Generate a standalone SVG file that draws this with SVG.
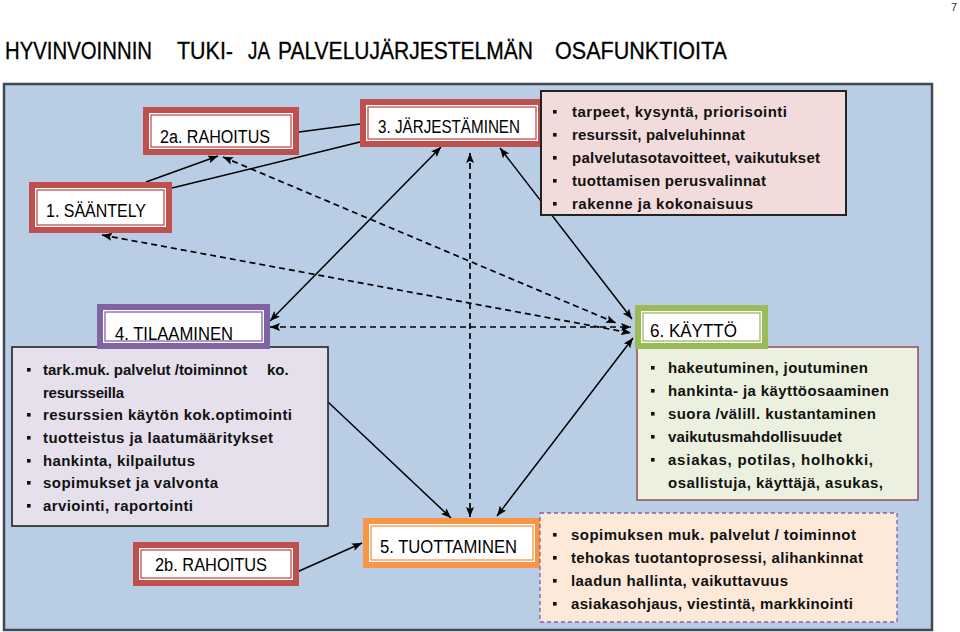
<svg xmlns="http://www.w3.org/2000/svg" width="960" height="632" viewBox="0 0 960 632">
<defs>
<style>
.title{font-family:"Liberation Sans",Arial,sans-serif;font-size:23px;fill:#000;stroke:#000;stroke-width:0.3}
.pg{font-family:"Liberation Sans",Arial,sans-serif;font-size:11px;fill:#333}
.lbl{font-family:"Liberation Sans",Arial,sans-serif;font-size:18px;fill:#000}
.bt{font-family:"Liberation Sans",Arial,sans-serif;font-size:15px;font-weight:bold;fill:#111}
.bul{fill:#111}
.ln{fill:none;stroke:#000;stroke-width:1.5}
.dl{fill:none;stroke:#000;stroke-width:1.7;stroke-dasharray:6 4}
.band-red{fill:#fff;stroke:#c0504d;stroke-width:6}
.in-red{fill:none;stroke:#c0504d;stroke-width:1.3}
.band-pur{fill:#fff;stroke:#8064a2;stroke-width:6}
.in-pur{fill:none;stroke:#8064a2;stroke-width:1.3}
.band-grn{fill:#fff;stroke:#9bbb59;stroke-width:6}
.in-grn{fill:none;stroke:#9bbb59;stroke-width:1.3}
.band-org{fill:#fff;stroke:#f79646;stroke-width:6}
.in-org{fill:none;stroke:#f79646;stroke-width:1.3}
</style>
<marker id="ah" viewBox="0 0 10 8" refX="10" refY="4" markerWidth="10" markerHeight="8" markerUnits="userSpaceOnUse" orient="auto-start-reverse">
<path d="M0,0 L10,4 L0,8 L2,4 z" fill="#000"/>
</marker>
</defs>

<text class="pg" x="951" y="11">7</text>
<text class="title" y="59"><tspan x="5" textLength="147" lengthAdjust="spacingAndGlyphs">HYVINVOINNIN</tspan><tspan x="177" textLength="56" lengthAdjust="spacingAndGlyphs">TUKI-</tspan><tspan x="248" textLength="22" lengthAdjust="spacingAndGlyphs">JA</tspan><tspan x="278" textLength="255" lengthAdjust="spacingAndGlyphs">PALVELUJÄRJESTELMÄN</tspan><tspan x="555" textLength="172" lengthAdjust="spacingAndGlyphs">OSAFUNKTIOITA</tspan></text>

<rect x="4" y="84" width="928" height="546" fill="#b9cde5" stroke="#404856" stroke-width="2.5"/>

<g id="connectors">
<line class="ln" x1="146" y1="182" x2="218" y2="156" marker-end="url(#ah)"/>
<line class="ln" x1="172" y1="188" x2="360" y2="142"/>
<line class="ln" x1="299" y1="132" x2="360" y2="124"/>
<line class="dl" x1="223" y1="157" x2="616" y2="323" marker-start="url(#ah)" marker-end="url(#ah)"/>
<line class="dl" x1="102" y1="235" x2="631" y2="333" marker-start="url(#ah)" marker-end="url(#ah)"/>
<line class="ln" x1="441" y1="147" x2="270" y2="321" marker-start="url(#ah)" marker-end="url(#ah)"/>
<line class="dl" x1="470" y1="153" x2="470" y2="517" marker-start="url(#ah)" marker-end="url(#ah)"/>
<line class="ln" x1="500" y1="148" x2="632" y2="319" marker-start="url(#ah)" marker-end="url(#ah)"/>
<line class="dl" x1="270" y1="327" x2="631" y2="327" marker-start="url(#ah)" marker-end="url(#ah)"/>
<line class="ln" x1="328" y1="402" x2="451" y2="518" marker-end="url(#ah)"/>
<line class="ln" x1="633" y1="338" x2="497" y2="516" marker-start="url(#ah)" marker-end="url(#ah)"/>
<line class="ln" x1="297" y1="572" x2="362" y2="543" marker-end="url(#ah)"/>
</g>

<g id="n1">
<rect class="band-red" x="32" y="185" width="137" height="45"/>
<rect class="in-red" x="37" y="190" width="127" height="35"/>
<text class="lbl" x="46" y="217" textLength="100" lengthAdjust="spacingAndGlyphs">1. SÄÄNTELY</text>
</g>

<g id="n2a">
<rect class="band-red" x="146" y="110" width="150" height="42"/>
<rect class="in-red" x="151" y="115" width="140" height="32"/>
<text class="lbl" x="160" y="143" textLength="110" lengthAdjust="spacingAndGlyphs">2a. RAHOITUS</text>
</g>

<g id="n3">
<rect class="band-red" x="363" y="102" width="178" height="42"/>
<rect class="in-red" x="368" y="107" width="168" height="32"/>
<text class="lbl" x="378" y="133" textLength="142" lengthAdjust="spacingAndGlyphs">3. JÄRJESTÄMINEN</text>
</g>

<g id="n3-list">
<rect x="541" y="91" width="305" height="124" fill="#f2dcdb" stroke="#222" stroke-width="2"/>
<rect class="bul" x="553" y="110" width="3.6" height="3.6"/>
<rect class="bul" x="553" y="133" width="3.6" height="3.6"/>
<rect class="bul" x="553" y="156" width="3.6" height="3.6"/>
<rect class="bul" x="553" y="179" width="3.6" height="3.6"/>
<rect class="bul" x="553" y="202" width="3.6" height="3.6"/>
<text class="bt" x="572" y="117" textLength="215">tarpeet, kysyntä, priorisointi</text>
<text class="bt" x="572" y="140" textLength="173">resurssit, palveluhinnat</text>
<text class="bt" x="572" y="163" textLength="248">palvelutasotavoitteet, vaikutukset</text>
<text class="bt" x="572" y="186" textLength="194">tuottamisen perusvalinnat</text>
<text class="bt" x="572" y="209" textLength="181">rakenne ja kokonaisuus</text>
</g>

<g id="n4-list">
<rect x="12" y="347" width="316" height="179" fill="#e5e0ec" stroke="#222" stroke-width="1.6"/>
<rect class="bul" x="27" y="368" width="3.6" height="3.6"/>
<rect class="bul" x="27" y="413" width="3.6" height="3.6"/>
<rect class="bul" x="27" y="436" width="3.6" height="3.6"/>
<rect class="bul" x="27" y="459" width="3.6" height="3.6"/>
<rect class="bul" x="27" y="481" width="3.6" height="3.6"/>
<rect class="bul" x="27" y="504" width="3.6" height="3.6"/>
<text class="bt" y="375"><tspan x="43">tark.muk. palvelut /toiminnot</tspan><tspan x="267">ko.</tspan></text>
<text class="bt" x="43" y="398" textLength="81">resursseilla</text>
<text class="bt" x="43" y="420" textLength="249">resurssien käytön kok.optimointi</text>
<text class="bt" x="43" y="443" textLength="230">tuotteistus ja laatumääritykset</text>
<text class="bt" x="43" y="466" textLength="152">hankinta, kilpailutus</text>
<text class="bt" x="43" y="488" textLength="175">sopimukset ja valvonta</text>
<text class="bt" x="43" y="511" textLength="150">arviointi, raportointi</text>
</g>

<g id="n4">
<rect class="band-pur" x="100" y="307" width="167" height="39"/>
<rect class="in-pur" x="105" y="312" width="157" height="29"/>
<text class="lbl" x="115" y="340" textLength="118" lengthAdjust="spacingAndGlyphs">4. TILAAMINEN</text>
</g>

<g id="n6-list">
<rect x="637" y="347" width="281" height="153" fill="#ebf1de" stroke="#9b4a5a" stroke-width="1.5"/>
<rect class="bul" x="651" y="366" width="3.6" height="3.6"/>
<rect class="bul" x="651" y="389" width="3.6" height="3.6"/>
<rect class="bul" x="651" y="412" width="3.6" height="3.6"/>
<rect class="bul" x="651" y="435" width="3.6" height="3.6"/>
<rect class="bul" x="651" y="458" width="3.6" height="3.6"/>
<text class="bt" x="668" y="373" textLength="200">hakeutuminen, joutuminen</text>
<text class="bt" x="668" y="396" textLength="221">hankinta- ja käyttöosaaminen</text>
<text class="bt" x="668" y="419" textLength="208">suora /välill. kustantaminen</text>
<text class="bt" x="668" y="442" textLength="174">vaikutusmahdollisuudet</text>
<text class="bt" x="668" y="465" textLength="205">asiakas, potilas, holhokki,</text>
<text class="bt" x="668" y="488" textLength="215">osallistuja, käyttäjä, asukas,</text>
</g>

<g id="n6">
<rect class="band-grn" x="638" y="308" width="127" height="38"/>
<rect class="in-grn" x="643" y="313" width="117" height="28"/>
<text class="lbl" x="650" y="337" textLength="87" lengthAdjust="spacingAndGlyphs">6. KÄYTTÖ</text>
</g>

<g id="n2b">
<rect class="band-red" x="136" y="545" width="160" height="38"/>
<rect class="in-red" x="141" y="550" width="150" height="28"/>
<text class="lbl" x="155" y="571" textLength="112" lengthAdjust="spacingAndGlyphs">2b. RAHOITUS</text>
</g>

<g id="n5">
<rect class="band-org" x="366" y="521" width="172" height="44"/>
<rect class="in-org" x="371" y="526" width="162" height="34"/>
<text class="lbl" x="380" y="553" textLength="137" lengthAdjust="spacingAndGlyphs">5. TUOTTAMINEN</text>
</g>

<g id="n5-list">
<rect x="540" y="513" width="357" height="109" fill="#fde9d9" stroke="#8064a2" stroke-width="1.3" stroke-dasharray="4 3"/>
<rect class="bul" x="553" y="533" width="3.6" height="3.6"/>
<rect class="bul" x="553" y="556" width="3.6" height="3.6"/>
<rect class="bul" x="553" y="579" width="3.6" height="3.6"/>
<rect class="bul" x="553" y="602" width="3.6" height="3.6"/>
<text class="bt" x="571" y="540" textLength="285">sopimuksen muk. palvelut / toiminnot</text>
<text class="bt" x="571" y="563" textLength="292">tehokas tuotantoprosessi, alihankinnat</text>
<text class="bt" x="571" y="586" textLength="217">laadun hallinta, vaikuttavuus</text>
<text class="bt" x="571" y="609" textLength="282">asiakasohjaus, viestintä, markkinointi</text>
</g>
</svg>
